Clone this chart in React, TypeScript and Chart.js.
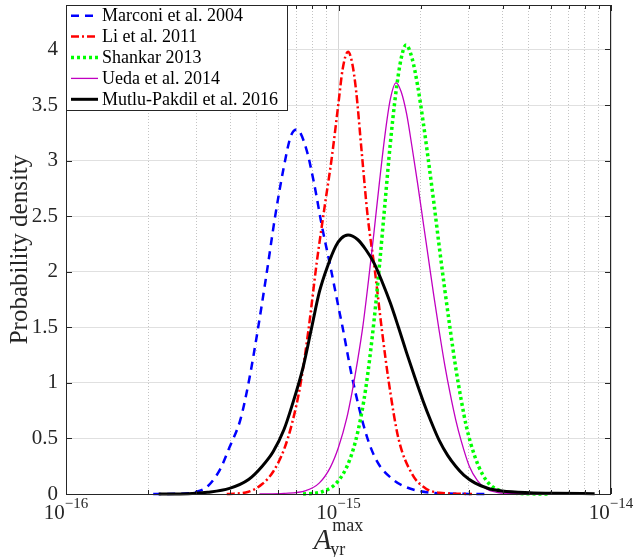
import React, { useEffect, useRef } from "react";
import { Chart, registerables } from "chart.js";

Chart.register(...registerables);

// ---------- data (x values given as log10 of A_yr^max) ----------
const seriesLabels = [
  "Marconi et al. 2004",
  "Li et al. 2011",
  "Shankar 2013",
  "Ueda et al. 2014",
  "Mutlu-Pakdil et al. 2016",
];

const marconiLogA = [-15.68, -15.6, -15.55, -15.52, -15.48, -15.435, -15.4, -15.36, -15.33, -15.3, -15.264, -15.233, -15.2, -15.175, -15.153, -15.12, -15.09, -15.06, -15.03, -15.0, -14.985, -14.95, -14.9, -14.86, -14.8, -14.75, -14.7, -14.65, -14.55, -14.46];
const marconiDensity = [0, 0.002, 0.006, 0.02, 0.07, 0.22, 0.42, 0.67, 1.0, 1.42, 1.98, 2.49, 2.95, 3.22, 3.28, 3.12, 2.8, 2.4, 2.05, 1.68, 1.5, 1.05, 0.55, 0.3, 0.13, 0.06, 0.025, 0.01, 0.002, 0];

const liLogA = [-15.41, -15.33, -15.28, -15.24, -15.2, -15.17, -15.14, -15.11, -15.08, -15.05, -15.025, -15.0, -14.985, -14.965, -14.95, -14.935, -14.915, -14.893, -14.866, -14.842, -14.815, -14.78, -14.73, -14.68, -14.63, -14.51];
const liDensity = [0, 0.02, 0.09, 0.2, 0.4, 0.64, 0.98, 1.48, 2.08, 2.6, 3.02, 3.52, 3.82, 3.98, 3.88, 3.62, 3.08, 2.5, 2.0, 1.5, 1.0, 0.5, 0.18, 0.05, 0.012, 0];

const shankarLogA = [-15.13, -15.06, -15.0, -14.96, -14.93, -14.9, -14.87, -14.85, -14.83, -14.81, -14.79, -14.77, -14.752, -14.73, -14.71, -14.69, -14.67, -14.65, -14.63, -14.61, -14.59, -14.57, -14.55, -14.53, -14.5, -14.47, -14.44, -14.4, -14.35, -14.225];
const shankarDensity = [0, 0.02, 0.12, 0.3, 0.55, 0.95, 1.55, 2.05, 2.6, 3.15, 3.6, 3.92, 4.04, 3.92, 3.68, 3.36, 3.0, 2.62, 2.22, 1.84, 1.48, 1.14, 0.85, 0.6, 0.34, 0.17, 0.075, 0.025, 0.006, 0];

const uedaLogA = [-15.29, -15.2, -15.12, -15.07, -15.03, -15.0, -14.97, -14.95, -14.93, -14.91, -14.89, -14.87, -14.85, -14.83, -14.81, -14.789, -14.77, -14.75, -14.73, -14.71, -14.69, -14.67, -14.65, -14.63, -14.61, -14.59, -14.57, -14.55, -14.52, -14.49, -14.46, -14.42, -14.37, -14.3, -14.25];
const uedaDensity = [0, 0.005, 0.03, 0.1, 0.24, 0.42, 0.68, 0.92, 1.2, 1.52, 1.92, 2.35, 2.8, 3.22, 3.55, 3.7, 3.62, 3.42, 3.12, 2.8, 2.46, 2.12, 1.78, 1.46, 1.16, 0.9, 0.67, 0.48, 0.25, 0.12, 0.05, 0.015, 0.005, 0.001, 0];

const mutluLogA = [-15.66, -15.55, -15.48, -15.4, -15.33, -15.28, -15.24, -15.2, -15.17, -15.13, -15.1, -15.07, -15.04, -15.01, -14.99, -14.965, -14.93, -14.9, -14.87, -14.84, -14.81, -14.78, -14.75, -14.72, -14.69, -14.66, -14.63, -14.6, -14.57, -14.54, -14.5, -14.45, -14.4, -14.3, -14.2, -14.06];
const mutluDensity = [0, 0.003, 0.015, 0.05, 0.13, 0.25, 0.38, 0.58, 0.8, 1.14, 1.48, 1.82, 2.05, 2.23, 2.3, 2.33, 2.29, 2.2, 2.08, 1.91, 1.72, 1.5, 1.27, 1.05, 0.84, 0.65, 0.48, 0.35, 0.25, 0.17, 0.1, 0.05, 0.028, 0.012, 0.006, 0.003];

// ---------- axes ----------
const xTickValues = [
  1e-16, 2e-16, 3e-16, 4e-16, 5e-16, 6e-16, 7e-16, 8e-16, 9e-16,
  1e-15, 2e-15, 3e-15, 4e-15, 5e-15, 6e-15, 7e-15, 8e-15, 9e-15,
  1e-14,
];
const xMajorTicks = [1e-16, 1e-15, 1e-14];
const xMajorExponentLabels = ["\u221216", "\u221215", "\u221214"];
const yTickValues = [0, 0.5, 1, 1.5, 2, 2.5, 3, 3.5, 4];

const SERIF = "'Liberation Serif', 'Times New Roman', serif";
const AXIS_COLOR = "#262626";

const isMajorX = (v: number) => {
  const l = Math.log10(v);
  return Math.abs(l - Math.round(l)) < 1e-6;
};

const toPoints = (logA: number[], dens: number[]) =>
  logA.map((lx, i) => ({ x: Math.pow(10, lx), y: dens[i] }));

const framePlugin = {
  id: "frameTicks",
  afterDatasetsDraw(chart: any) {
    const { ctx, chartArea: a, scales } = chart;
    const xs = scales.x;
    const ys = scales.y;
    ctx.save();
    ctx.strokeStyle = AXIS_COLOR;
    ctx.lineWidth = 1;
    ctx.beginPath();
    xTickValues.forEach((v) => {
      const px = Math.round(xs.getPixelForValue(v)) + 0.5;
      const len = isMajorX(v) ? 6 : 4;
      ctx.moveTo(px, a.bottom);
      ctx.lineTo(px, a.bottom - len);
      ctx.moveTo(px, a.top);
      ctx.lineTo(px, a.top + len);
    });
    yTickValues.forEach((v) => {
      const py = Math.round(ys.getPixelForValue(v)) + 0.5;
      ctx.moveTo(a.left, py);
      ctx.lineTo(a.left + 6, py);
      ctx.moveTo(a.right, py);
      ctx.lineTo(a.right - 6, py);
    });
    ctx.stroke();
    ctx.strokeRect(Math.round(a.left) + 0.5, Math.round(a.top) + 0.5, Math.round(a.right - a.left) - 1, Math.round(a.bottom - a.top));
    ctx.restore();
  },
  afterDraw(chart: any) {
    const { ctx, chartArea: a, scales } = chart;
    const xs = scales.x;
    ctx.save();
    ctx.fillStyle = AXIS_COLOR;
    ctx.textBaseline = "alphabetic";
    ctx.textAlign = "left";
    // x tick labels 10^{n}
    xMajorTicks.forEach((v, i) => {
      const px = xs.getPixelForValue(v);
      ctx.font = `21px ${SERIF}`;
      const wb = ctx.measureText("10").width;
      ctx.font = `15px ${SERIF}`;
      const we = ctx.measureText(xMajorExponentLabels[i]).width;
      const x0 = px - (wb + we) / 2;
      ctx.font = `21px ${SERIF}`;
      ctx.fillText("10", x0, 519);
      ctx.font = `15px ${SERIF}`;
      ctx.fillText(xMajorExponentLabels[i], x0 + wb, 508);
    });
    // x axis title A_yr^max
    ctx.font = `italic 29px ${SERIF}`;
    const wA = ctx.measureText("A").width;
    ctx.font = `18px ${SERIF}`;
    const wMax = ctx.measureText("max").width;
    const wYr = ctx.measureText("yr").width;
    const total = wA + 1 + Math.max(wMax, wYr);
    const cx = (a.left + a.right) / 2;
    const tx = cx - total / 2;
    ctx.font = `italic 29px ${SERIF}`;
    ctx.fillText("A", tx, 549);
    ctx.font = `18px ${SERIF}`;
    ctx.fillText("max", tx + wA + 1, 531);
    ctx.fillText("yr", tx + wA - 1, 555);

    // legend
    const lx = a.left;
    const ly = a.top;
    const lw = 222;
    const lh = 106;
    ctx.fillStyle = "#ffffff";
    ctx.fillRect(lx, ly, lw, lh);
    ctx.strokeStyle = AXIS_COLOR;
    ctx.lineWidth = 1;
    ctx.strokeRect(Math.round(lx) + 0.5, Math.round(ly) + 0.5, lw - 1, lh - 1);
    chart.data.datasets.forEach((ds: any, i: number) => {
      const cy = ly + 10.7 + i * 20.9;
      ctx.save();
      ctx.strokeStyle = ds.borderColor;
      ctx.lineWidth = ds.borderWidth;
      ctx.setLineDash(ds.borderDash || []);
      ctx.beginPath();
      ctx.moveTo(lx + 5, cy);
      ctx.lineTo(lx + 32, cy);
      ctx.stroke();
      ctx.restore();
      ctx.fillStyle = "#000000";
      ctx.font = `18px ${SERIF}`;
      ctx.textBaseline = "middle";
      ctx.fillText(ds.label, lx + 36, cy + 1);
    });
    ctx.restore();
  },
};

export default function App() {
  const canvasRef = useRef<HTMLCanvasElement | null>(null);

  useEffect(() => {
    document.body.style.margin = "0";
    const canvas = canvasRef.current;
    if (!canvas) return;
    const chart = new Chart(canvas, {
      type: "line",
      data: {
        datasets: [
          {
            label: seriesLabels[0],
            data: toPoints(marconiLogA, marconiDensity),
            borderColor: "#0000ff",
            borderWidth: 2.5,
            borderDash: [8, 6],
            order: 4,
          },
          {
            label: seriesLabels[1],
            data: toPoints(liLogA, liDensity),
            borderColor: "#ff0000",
            borderWidth: 2.5,
            borderDash: [8, 3, 2, 3],
            order: 3,
          },
          {
            label: seriesLabels[2],
            data: toPoints(shankarLogA, shankarDensity),
            borderColor: "#00ff00",
            borderWidth: 3.5,
            borderDash: [3, 3],
            order: 2,
          },
          {
            label: seriesLabels[3],
            data: toPoints(uedaLogA, uedaDensity),
            borderColor: "#c000c0",
            borderWidth: 1.3,
            order: 1,
          },
          {
            label: seriesLabels[4],
            data: toPoints(mutluLogA, mutluDensity),
            borderColor: "#000000",
            borderWidth: 3,
            order: 0,
          },
        ] as any,
      },
      options: {
        animation: false,
        responsive: false,
        devicePixelRatio: 1,
        layout: { padding: { left: 0, top: 5, right: 24, bottom: 0 } },
        elements: {
          point: { radius: 0 },
          line: { cubicInterpolationMode: "monotone", fill: false },
        },
        datasets: { line: { clip: 4 } as any },
        plugins: {
          legend: { display: false },
          tooltip: { enabled: false },
        },
        scales: {
          x: {
            type: "logarithmic",
            min: 1e-16,
            max: 1e-14,
            afterBuildTicks: (scale: any) => {
              scale.ticks = xTickValues.map((v) => ({ value: v, major: isMajorX(v) }));
            },
            afterFit: (scale: any) => {
              scale.height = 63;
              scale.paddingLeft = 0;
              scale.paddingRight = 0;
            },
            ticks: { display: false },
            grid: {
              drawTicks: false,
              tickLength: 0,
              lineWidth: 1,
              color: (c: any) => (c.tick && isMajorX(c.tick.value) ? "#d6d6d6" : "#c4c4c4"),
            },
            border: {
              display: false,
              dash: (c: any) => (c.tick && !isMajorX(c.tick.value) ? [1, 2] : []),
            } as any,
          },
          y: {
            type: "linear",
            min: 0,
            max: 4.4,
            afterBuildTicks: (scale: any) => {
              scale.ticks = yTickValues.map((v) => ({ value: v }));
            },
            afterFit: (scale: any) => {
              scale.width = 66;
              scale.paddingTop = 0;
              scale.paddingBottom = 0;
            },
            ticks: {
              color: AXIS_COLOR,
              font: { family: SERIF, size: 21 },
              padding: 8,
              callback: (v: any) => String(v),
            },
            grid: {
              drawTicks: false,
              tickLength: 0,
              color: "#e0e0e0",
              lineWidth: 1,
            },
            border: { display: false },
            title: {
              display: true,
              text: "Probability density",
              color: AXIS_COLOR,
              font: { family: SERIF, size: 25 },
              padding: { top: 5, bottom: 0 },
            },
          },
        },
      },
      plugins: [framePlugin],
    } as any);
    return () => chart.destroy();
  }, []);

  return (
    <div style={{ width: 635, height: 557 }}>
      <canvas ref={canvasRef} width={635} height={557} style={{ display: "block" }} />
    </div>
  );
}
